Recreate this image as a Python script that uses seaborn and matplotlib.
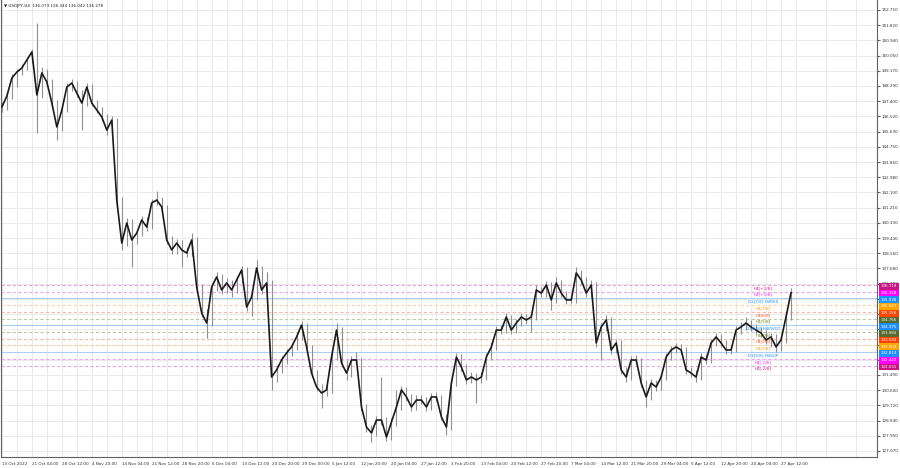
import numpy as np
import pandas as pd
import seaborn as sns
import matplotlib.pyplot as plt
import matplotlib.transforms as mtransforms
from matplotlib.patches import Rectangle

# USDJPY H4, sampled roughly every 5 H4 bars (close / high / low)
close = [147.07, 147.71, 148.76, 149.10, 149.34, 149.80, 150.27, 147.77, 149.05, 148.52,
         147.30, 145.91, 146.89, 148.23, 148.46, 147.88, 147.30, 148.23, 147.30, 146.89,
         146.49, 145.73, 146.31, 141.66, 139.16, 140.33, 139.34, 139.74, 140.50, 140.09,
         141.49, 141.66, 141.26, 139.34, 138.76, 139.16, 138.76, 138.58, 139.34, 136.60,
         135.09, 134.51, 136.60, 137.19, 136.43, 136.84, 136.43, 137.01, 137.59, 135.44,
         136.02, 137.71, 136.43, 136.84, 131.37, 131.78, 132.36, 132.77, 133.12, 133.70,
         134.39, 133.12, 131.60, 130.79, 130.44, 130.62, 132.53, 134.10, 132.19, 131.60,
         132.36, 132.36, 129.63, 128.46, 128.12, 128.87, 128.87, 127.88, 128.75, 129.63,
         130.62, 130.21, 129.63, 130.03, 130.03, 129.63, 130.21, 130.21, 129.05, 128.46,
         131.02, 132.53, 131.95, 131.20, 131.37, 131.20, 131.37, 132.53, 133.12, 134.10,
         134.10, 134.86, 134.10, 134.51, 134.86, 134.69, 134.86, 136.43, 136.25, 136.72,
         135.85, 136.84, 136.25, 135.85, 135.85, 137.42, 137.01, 136.25, 136.72, 133.35,
         134.28, 134.69, 132.94, 133.35, 131.78, 131.37, 132.36, 132.36, 131.02, 130.21,
         131.02, 130.79, 131.37, 132.53, 132.94, 133.12, 132.94, 131.78, 131.60, 131.37,
         132.53, 132.36, 133.35, 133.70, 133.35, 132.94, 132.94, 134.10, 134.28, 134.51,
         134.28, 134.10, 133.93, 133.52, 133.70, 133.12, 133.52, 134.86, 136.28]
high = [147.35, 147.95, 149.00, 149.30, 149.55, 150.00, 150.45, 151.95, 149.40, 149.25,
        148.70, 147.45, 147.10, 148.45, 148.70, 148.60, 148.05, 148.45, 148.40, 147.50,
        147.05, 146.65, 146.55, 146.45, 141.85, 140.60, 140.55, 140.00, 140.75, 140.70,
        141.70, 142.19, 141.85, 141.40, 139.55, 139.40, 139.35, 138.95, 139.74, 139.50,
        136.80, 135.30, 136.85, 137.45, 137.35, 137.10, 137.00, 137.25, 137.85, 137.75,
        136.30, 138.17, 137.85, 137.45, 137.00, 132.05, 132.60, 133.00, 133.35, 133.95,
        134.60, 134.50, 133.25, 131.75, 130.95, 130.95, 132.75, 134.51, 134.25, 132.35,
        132.60, 132.85, 132.50, 129.80, 128.60, 129.10, 131.37, 129.05, 129.00, 130.62,
        130.85, 130.80, 130.40, 130.30, 130.35, 130.20, 130.45, 130.50, 130.35, 129.20,
        131.25, 132.77, 132.70, 132.10, 131.65, 131.60, 131.65, 132.75, 133.40, 134.35,
        134.40, 135.10, 135.00, 134.75, 135.10, 135.05, 135.10, 136.70, 136.60, 136.95,
        136.90, 137.19, 137.00, 136.40, 136.10, 137.77, 137.60, 137.20, 137.00, 136.90,
        134.50, 134.95, 134.85, 133.60, 133.50, 131.95, 132.60, 132.65, 132.50, 131.20,
        131.25, 131.20, 131.60, 132.75, 133.20, 133.35, 133.30, 133.10, 131.95, 131.75,
        132.75, 132.70, 133.60, 133.95, 133.90, 133.50, 133.20, 134.35, 134.55, 134.86,
        134.70, 134.45, 134.30, 134.10, 133.95, 133.85, 133.75, 135.10, 136.55]
low = [146.80, 146.90, 147.55, 148.25, 148.95, 149.20, 149.65, 145.56, 147.60, 148.30,
       147.05, 145.15, 145.70, 146.75, 148.00, 147.65, 145.73, 147.15, 147.10, 146.70,
       146.25, 145.45, 145.60, 141.40, 138.76, 139.00, 137.77, 139.10, 139.55, 139.85,
       139.95, 141.35, 141.05, 139.10, 138.50, 138.55, 137.77, 138.35, 138.40, 136.35,
       134.85, 133.64, 134.35, 136.40, 136.20, 136.25, 136.00, 136.25, 136.85, 135.20,
       134.90, 135.85, 136.20, 136.25, 130.62, 131.10, 131.60, 132.15, 132.60, 132.95,
       133.55, 132.90, 131.35, 130.55, 129.57, 130.25, 130.45, 132.35, 131.95, 131.20,
       131.40, 132.10, 129.40, 128.20, 127.59, 127.95, 128.60, 127.65, 127.70, 128.55,
       129.45, 130.00, 129.40, 129.45, 129.80, 129.40, 129.45, 129.95, 128.85, 128.00,
       128.30, 130.85, 131.70, 130.95, 131.00, 129.86, 131.00, 131.20, 132.35, 132.95,
       133.85, 133.95, 133.85, 133.95, 134.35, 134.45, 133.99, 134.70, 136.00, 136.05,
       135.27, 135.70, 136.00, 135.60, 135.60, 135.70, 136.80, 136.00, 136.05, 133.10,
       132.36, 134.05, 132.70, 132.75, 131.55, 131.10, 131.20, 132.10, 130.80, 129.63,
       130.05, 130.55, 130.60, 131.20, 132.35, 132.75, 132.70, 131.55, 131.35, 131.10,
       131.20, 132.10, 132.20, 133.15, 133.10, 132.70, 132.70, 132.80, 133.90, 134.10,
       134.05, 133.85, 133.70, 133.30, 133.12, 132.80, 132.90, 133.35, 134.70]

date_labels = ["13 Oct 2022", "21 Oct 04:00", "28 Oct 12:00", "4 Nov 20:00", "14 Nov 04:00",
               "21 Nov 12:00", "28 Nov 20:00", "6 Dec 04:00", "13 Dec 12:00", "20 Dec 20:00",
               "29 Dec 00:00", "5 Jan 12:00", "12 Jan 20:00", "20 Jan 04:00", "27 Jan 12:00",
               "3 Feb 20:00", "13 Feb 04:00", "20 Feb 12:00", "27 Feb 20:00", "7 Mar 04:00",
               "14 Mar 12:00", "21 Mar 20:00", "29 Mar 04:00", "5 Apr 12:00", "12 Apr 20:00",
               "20 Apr 04:00", "27 Apr 12:00"]
price_ticks = [152.710, 151.820, 150.940, 150.050, 149.170, 148.290, 147.400, 146.520,
               145.630, 144.750, 143.860, 142.980, 142.100, 141.210, 140.330, 139.440,
               138.560, 137.680, 136.790, 135.910, 135.020, 134.140, 133.250, 132.370,
               131.490, 130.600, 129.720, 128.840, 127.950, 127.070]
# these scale labels sit under the coloured price boxes
hidden_ticks = [135.910, 135.020, 134.140, 133.250, 132.370]

level_prices = [136.719, 136.328, 135.938, 135.547, 135.156, 134.766, 134.375,
                133.984, 133.594, 133.203, 132.813, 132.422, 132.031]
level_names = ["H4[+2/8]", "H4[+1/8]", "D1[7/8] H4RES", "H4[7/8]", "H4[6/8]", "H4[5/8]",
               "D1[6/8] H4PIVOT", "H4[3/8]", "H4[2/8]", "H4[1/8]", "D1[5/8] H4SUP",
               "H4[-1/8]", "H4[-2/8]"]
level_kinds = ["pp", "p", "d1", "o", "r", "g", "d1", "g", "r", "o", "d1", "p", "pp"]

# kind -> (line colour, dashed, box colour, text colour)
kind_style = {
    "pp": ("#e8a6dc", True, "#c71585", "#d0189a"),
    "p": ("#f2a2f2", True, "#ff00ff", "#f020f0"),
    "d1": ("#a9cff5", False, "#1e90ff", "#1e90ff"),
    "o": ("#fbd3a6", True, "#ffa500", "#ff9f10"),
    "r": ("#f8b8a4", True, "#ff4500", "#ff5520"),
    "g": ("#c4c6a8", True, "#556b2f", "#6b8e23"),
}

df = pd.DataFrame({"bar": np.arange(len(close)), "close": close, "high": high, "low": low})

sns.set_style("whitegrid", {"grid.color": "#e6e6e6", "axes.edgecolor": "#606060"})
plt.rcParams["font.family"] = ["DejaVu Sans"]

fig = plt.figure(figsize=(9, 4.68), dpi=100)
ax = fig.add_axes([0.001, 11 / 468, 876 / 900, 457 / 468])

ax.vlines(df["bar"], df["low"], df["high"], color="#8f8f8f", lw=0.8, zorder=3)
sns.lineplot(data=df, x="bar", y="close", ax=ax, color="#1a1a1a", lw=1.2, zorder=4)

for p, name, kind in zip(level_prices, level_names, level_kinds):
    lc, dashed, bc, tc = kind_style[kind]
    ax.axhline(p, color=lc, lw=0.8, ls=(0, (3, 2)) if dashed else "-", zorder=2)
    ax.text(152.4, p - 0.06, name, color=tc, fontsize=3.0, ha="center", va="top", zorder=5)

trans = mtransforms.blended_transform_factory(ax.transAxes, ax.transData)
for p, kind in zip(level_prices, level_kinds):
    bc = kind_style[kind][2]
    ax.add_patch(Rectangle((1.002, p - 0.27), 0.023, 0.39, transform=trans,
                           facecolor=bc, edgecolor="none", clip_on=False, zorder=6))
    ax.text(1.0135, p - 0.075, f"{p:.3f}", transform=trans, color="white", fontsize=2.9,
            ha="center", va="center", clip_on=False, zorder=7)

ax.set_xlim(-0.2, 175.2)
ax.set_ylim(126.72, 153.29)
ax.set_xticks(np.arange(0, 6 * len(date_labels), 6))
ax.set_xticklabels(date_labels, ha="left", fontsize=3.0, color="#333333")
ax.set_xticks(np.arange(3, 175, 6), minor=True)
ax.grid(True, which="both", lw=0.6)
ax.tick_params(axis="x", which="major", length=2, pad=1.5, color="#606060")
ax.tick_params(axis="x", which="minor", length=0)
ax.yaxis.tick_right()
ax.set_yticks(price_ticks)
ax.set_yticklabels(["" if t in hidden_ticks else f"{t:.3f}" for t in price_ticks],
                   fontsize=3.0, color="#333333")
ax.tick_params(axis="y", length=2, pad=1.5, color="#606060")
ax.set_xlabel("")
ax.set_ylabel("")
ax.spines["top"].set_visible(False)
for s in ["left", "right", "bottom"]:
    ax.spines[s].set_linewidth(0.8)

ax.text(0.003, 0.992, "\u25bc USDJPY,H4  136.073 136.344 136.042 136.278",
        transform=ax.transAxes, fontsize=3.0, color="#222222", ha="left", va="top")

fig.savefig("out.png", dpi=100)
